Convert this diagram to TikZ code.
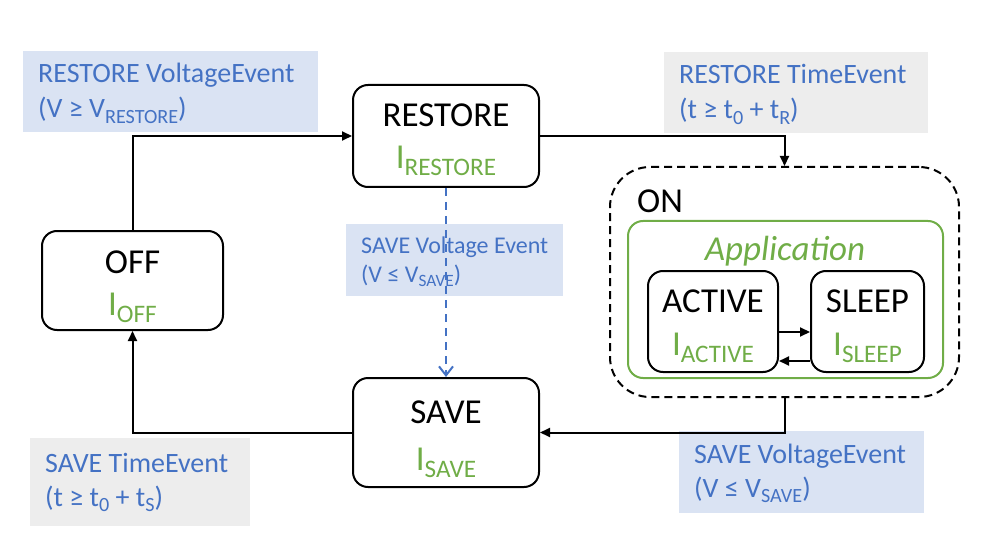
\documentclass[tikz,border=0pt]{standalone}
\usepackage{fontspec}
\setmainfont{Carlito}
\usetikzlibrary{arrows.meta}
\definecolor{lblue}{HTML}{4472C4}
\definecolor{lgreen}{HTML}{70AD47}
\definecolor{bfill}{HTML}{DAE3F3}
\definecolor{gfill}{HTML}{EDEDED}
\newcommand\lsub[1]{\raisebox{-0.2em}{\scalebox{0.72}{#1}}}
\tikzset{
  statebox/.style={draw=black, line width=2pt, rounded corners=15pt, inner sep=0pt},
  lab/.style={inner sep=0pt, anchor=north west},
  bigtxt/.style={inner sep=0pt, anchor=base, font=\fontsize{35}{40}\selectfont},
  labtxt/.style={inner sep=0pt, anchor=base west, text=lblue, font=\fontsize{28}{32}\selectfont},
  smalltxt/.style={inner sep=0pt, anchor=base west, text=lblue, font=\fontsize{24}{28}\selectfont},
  arr/.style={line width=2pt, -{Triangle[length=10pt,width=9pt]}},
  darr/.style={line width=2pt, lblue, dash pattern=on 8pt off 6pt, -{Straight Barb[length=9pt,width=14pt,line width=2pt]}}
}
\begin{document}
\begin{tikzpicture}[x=1pt,y=-1pt]
\useasboundingbox (0,0) rectangle (981,537);
% label boxes
\node[lab, fill=bfill, minimum width=295pt, minimum height=81pt] (l1) at (23,51) {};
\node[lab, fill=gfill, minimum width=264pt, minimum height=81pt] (l2) at (664,52) {};
\node[lab, fill=bfill, minimum width=217pt, minimum height=72pt] (l3) at (346,224) {};
\node[lab, fill=gfill, minimum width=220pt, minimum height=88pt] (l4) at (30,438) {};
\node[lab, fill=bfill, minimum width=245pt, minimum height=82pt] (l5) at (679,431) {};
% label texts
\node[labtxt] (l1a) at (38,83) {RESTORE VoltageEvent};
\node[labtxt] (l1b) at (38,118) {(V ≥ V\lsub{RESTORE})};
\node[labtxt] (l2a) at (679,84) {RESTORE TimeEvent};
\node[labtxt] (l2b) at (679,119) {(t ≥ t\lsub{0} + t\lsub{R})};
\node[smalltxt] (l3a) at (361,253) {SAVE Voltage Event};
\node[smalltxt] (l3b) at (361,282) {(V ≤ V\lsub{SAVE})};
\node[labtxt] (l4a) at (45,472) {SAVE TimeEvent};
\node[labtxt] (l4b) at (45,506) {(t ≥ t\lsub{0} + t\lsub{S})};
\node[labtxt] (l5a) at (694,463) {SAVE VoltageEvent};
\node[labtxt] (l5b) at (694,497) {(V ≤ V\lsub{SAVE})};
% ON and Application containers
\node[draw=black, line width=2pt, dash pattern=on 8pt off 5pt, rounded corners=40pt, minimum width=349pt, minimum height=230pt, inner sep=0pt] (on) at (784.5,282) {};
\node[bigtxt, anchor=base west] (ontxt) at (637,213) {ON};
\node[draw=lgreen, line width=2pt, rounded corners=15pt, minimum width=315pt, minimum height=157pt, inner sep=0pt] (app) at (785.5,299.5) {};
\node[bigtxt, text=lgreen, font=\fontsize{35}{40}\selectfont\itshape] (apptxt) at (785,260) {Application};
% states
\node[statebox, minimum width=186pt, minimum height=102pt] (restore) at (446,136) {};
\node[bigtxt] (restoret) at (446,127) {RESTORE};
\node[bigtxt, text=lgreen] (restorei) at (446,169) {I\lsub{RESTORE}};
\node[statebox, minimum width=181pt, minimum height=99pt] (off) at (132.5,280.5) {};
\node[bigtxt] (offt) at (132.5,273) {OFF};
\node[bigtxt, text=lgreen] (offi) at (132.5,315) {I\lsub{OFF}};
\node[statebox, minimum width=186pt, minimum height=109pt] (save) at (446,432.5) {};
\node[bigtxt] (savet) at (446,423) {SAVE};
\node[bigtxt, text=lgreen] (savei) at (446,470) {I\lsub{SAVE}};
\node[statebox, minimum width=130pt, minimum height=101pt] (active) at (713,321.5) {};
\node[bigtxt] (activet) at (713,312) {ACTIVE};
\node[bigtxt, text=lgreen] (activei) at (713,355) {I\lsub{ACTIVE}};
\node[statebox, minimum width=113pt, minimum height=101pt] (sleep) at (867.5,321.5) {};
\node[bigtxt] (sleept) at (867.5,312) {SLEEP};
\node[bigtxt, text=lgreen] (sleepi) at (867.5,355) {I\lsub{SLEEP}};
% connectors
\draw[arr] (off.north) |- (restore.west);
\draw[arr] (restore.east) -| (on.north);
\draw[arr] (on.south) |- (save.east);
\draw[arr] (save.west) -| (off.south);
\draw[darr] (restore.south) -- (save.north);
\coordinate (ya) at (0,332);
\coordinate (yb) at (0,361);
\draw[arr] (active.east |- ya) -- (sleep.west |- ya);
\draw[arr] (sleep.west |- yb) -- (active.east |- yb);
\end{tikzpicture}
\end{document}
